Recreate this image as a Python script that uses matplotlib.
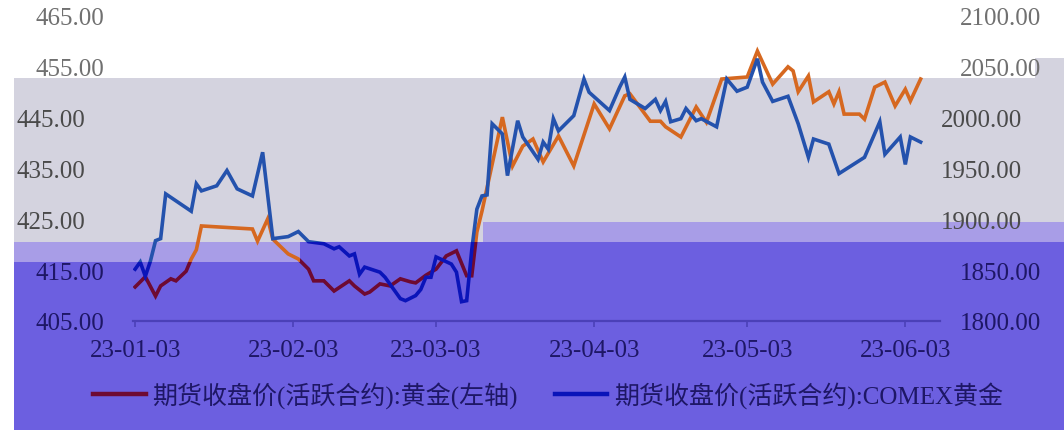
import matplotlib
matplotlib.use("Agg")
import matplotlib.pyplot as plt
import matplotlib.dates as mdates
import matplotlib.transforms as mtransforms
from matplotlib.patches import Rectangle, PathPatch
from matplotlib.path import Path
from matplotlib.lines import Line2D
import pandas as pd

plt.rcParams['font.family'] = ['Liberation Serif', 'Noto Sans CJK SC']

# SHFE gold, active contract close (left axis)
gold_dates = [
    "2023-01-03", "2023-01-05", "2023-01-07", "2023-01-08", "2023-01-10", "2023-01-11",
    "2023-01-13", "2023-01-14", "2023-01-15", "2023-01-16", "2023-01-26", "2023-01-27",
    "2023-01-29", "2023-01-30", "2023-02-02", "2023-02-04", "2023-02-06", "2023-02-07",
    "2023-02-09", "2023-02-11", "2023-02-14", "2023-02-15", "2023-02-17", "2023-02-18",
    "2023-02-20", "2023-02-22", "2023-02-24", "2023-02-26", "2023-02-27", "2023-03-01",
    "2023-03-03", "2023-03-05", "2023-03-07", "2023-03-09", "2023-03-10", "2023-03-11",
    "2023-03-12", "2023-03-16", "2023-03-18", "2023-03-20", "2023-03-22", "2023-03-24",
    "2023-03-27", "2023-03-30", "2023-04-03", "2023-04-06", "2023-04-09", "2023-04-10",
    "2023-04-14", "2023-04-16", "2023-04-17", "2023-04-20", "2023-04-23", "2023-04-25",
    "2023-04-28", "2023-05-03", "2023-05-05", "2023-05-08", "2023-05-11", "2023-05-12",
    "2023-05-13", "2023-05-15", "2023-05-16", "2023-05-19", "2023-05-20", "2023-05-21",
    "2023-05-22", "2023-05-25", "2023-05-26", "2023-05-28", "2023-05-30", "2023-06-01",
    "2023-06-03", "2023-06-04", "2023-06-06",
]
gold_vals = [
    411.7, 413.7, 409.9, 411.9, 413.3, 412.9,
    414.8, 417.2, 419.0, 423.7, 423.1, 420.7,
    425.1, 421.1, 418.2, 417.2, 415.2, 412.9,
    412.9, 410.9, 412.9, 411.9, 410.3, 410.7,
    412.3, 411.9, 413.3, 412.7, 412.5, 414.0,
    415.2, 417.8, 418.8, 413.9, 413.9, 422.5,
    426.6, 445.1, 435.5, 439.4, 440.8, 436.3,
    441.4, 435.5, 447.7, 442.8, 449.3, 449.7,
    444.3, 444.3, 443.2, 441.2, 447.1, 444.1,
    452.6, 453.0, 458.1, 451.6, 455.0, 454.2,
    450.1, 453.2, 448.1, 450.1, 447.7, 450.1,
    445.7, 445.7, 444.7, 451.0, 452.0, 447.3,
    450.6, 448.3, 452.6,
]

# COMEX gold, active contract close (right axis)
comex_dates = [
    "2023-01-03", "2023-01-04", "2023-01-05", "2023-01-06", "2023-01-07", "2023-01-08",
    "2023-01-09", "2023-01-14", "2023-01-15", "2023-01-16", "2023-01-19", "2023-01-21",
    "2023-01-23", "2023-01-26", "2023-01-28", "2023-01-30", "2023-02-02", "2023-02-04",
    "2023-02-06", "2023-02-09", "2023-02-11", "2023-02-12", "2023-02-14", "2023-02-15",
    "2023-02-16", "2023-02-17", "2023-02-20", "2023-02-21", "2023-02-24", "2023-02-25",
    "2023-02-27", "2023-02-28", "2023-03-01", "2023-03-02", "2023-03-03", "2023-03-06",
    "2023-03-07", "2023-03-08", "2023-03-09", "2023-03-10", "2023-03-11", "2023-03-12",
    "2023-03-13", "2023-03-14", "2023-03-16", "2023-03-17", "2023-03-19", "2023-03-20",
    "2023-03-23", "2023-03-24", "2023-03-25", "2023-03-26", "2023-03-27", "2023-03-30",
    "2023-04-01", "2023-04-02", "2023-04-06", "2023-04-08", "2023-04-09", "2023-04-10",
    "2023-04-13", "2023-04-15", "2023-04-16", "2023-04-17", "2023-04-18", "2023-04-20",
    "2023-04-21", "2023-04-23", "2023-04-24", "2023-04-27", "2023-04-29", "2023-05-01",
    "2023-05-03", "2023-05-05", "2023-05-06", "2023-05-08", "2023-05-11", "2023-05-13",
    "2023-05-15", "2023-05-16", "2023-05-19", "2023-05-21", "2023-05-26", "2023-05-29",
    "2023-05-30", "2023-06-02", "2023-06-03", "2023-06-04", "2023-06-06",
]
comex_vals = [
    1851, 1858, 1844, 1859, 1879, 1881,
    1925, 1908, 1935, 1928, 1933, 1948,
    1930, 1923, 1966, 1881, 1883, 1888,
    1878, 1876, 1871, 1873, 1864, 1866,
    1846, 1853, 1848, 1843, 1822, 1820,
    1825, 1831, 1843, 1843, 1863, 1856,
    1848, 1819, 1820, 1870, 1910, 1923,
    1924, 1994, 1984, 1943, 1997, 1981,
    1959, 1976, 1969, 1999, 1987, 2002,
    2038, 2025, 2007, 2030, 2040, 2018,
    2009, 2018, 2007, 2016, 1996, 1999,
    2009, 1997, 1999, 1991, 2038, 2026,
    2030, 2058, 2035, 2016, 2021, 1994,
    1961, 1979, 1974, 1945, 1961, 1996,
    1964, 1981, 1954, 1981, 1976,
]

left_ticks = [405, 415, 425, 435, 445, 455, 465]
right_ticks = [1800, 1850, 1900, 1950, 2000, 2050, 2100]
x_tick_dates = ["2023-01-03", "2023-02-03", "2023-03-03", "2023-04-03", "2023-05-03", "2023-06-03"]

label_gold = "期货收盘价(活跃合约):黄金(左轴)"
label_comex = "期货收盘价(活跃合约):COMEX黄金"

# colours
c_gray_bg = "#d4d3df"
c_band = "#a89de7"
c_purple = "#6c5fe0"
c_orange = "#d66820"
c_blue = "#2452ad"
c_darkred = "#6e0a32"
c_darkblue = "#0a14b9"
c_navy = "#1e1766"
c_axis = "#4b40b8"

W, H = 1064, 431
fig = plt.figure(figsize=(W / 100, H / 100), dpi=100)


def px_rect(x0, y0, x1, y1, color):
    fig.add_artist(Rectangle((x0 / W, 1 - y1 / H), (x1 - x0) / W, (y1 - y0) / H,
                             transform=fig.transFigure, facecolor=color,
                             edgecolor="none", zorder=-5))


def px_region(pts):
    verts = [(x / W, 1 - y / H) for x, y in pts] + [(0, 0)]
    codes = [Path.MOVETO] + [Path.LINETO] * (len(pts) - 1) + [Path.CLOSEPOLY]
    return PathPatch(Path(verts, codes), transform=fig.transFigure)


# background blocks
px_rect(14, 79, W, 243, c_gray_bg)
px_rect(1035, 59, W, 79, c_gray_bg)
px_rect(483, 223, W, 243, c_band)
px_rect(14, 243, 300, 263, c_band)
px_rect(300, 243, W, H, c_purple)
px_rect(14, 263, 300, H, c_purple)

light_pts = [(0, 0), (W, 0), (W, 243), (300, 243), (300, 263), (0, 263)]
dark_pts = [(0, 263), (300, 263), (300, 243), (W, 243), (W, H), (0, H)]

ax = fig.add_axes([133 / W, 1 - 322 / H, (940 - 133) / W, (322 - 17) / H])
ax.set_facecolor("none")
ax2 = ax.twinx()

gd = pd.to_datetime(gold_dates)
cd = pd.to_datetime(comex_dates)

for col, reg in [(c_orange, light_pts), (c_darkred, dark_pts)]:
    ln, = ax.plot(gd, gold_vals, color=col, linewidth=2.6, solid_joinstyle="miter")
    ln.set_clip_path(px_region(reg))
for col, reg in [(c_blue, light_pts), (c_darkblue, dark_pts)]:
    ln, = ax2.plot(cd, comex_vals, color=col, linewidth=2.6, solid_joinstyle="miter")
    ln.set_clip_path(px_region(reg))

start = pd.Timestamp("2023-01-03")
ax.set_xlim(start - pd.Timedelta(hours=10), start + pd.Timedelta(days=157.8))
ax.set_ylim(405, 465)
ax2.set_ylim(1800, 2100)

for a in (ax, ax2):
    for s in ["top", "left", "right", "bottom"]:
        a.spines[s].set_visible(False)
ax.spines["bottom"].set_visible(True)
ax.spines["bottom"].set_color(c_axis)
ax.spines["bottom"].set_linewidth(1.6)

ax.set_xticks(pd.to_datetime(x_tick_dates))
ax.xaxis.set_major_formatter(mdates.DateFormatter("%y-%m-%d"))
ax.tick_params(axis="x", direction="out", length=4, width=1.2, color=c_axis,
               labelsize=18, labelcolor=c_navy, pad=9)

ax.set_yticks(left_ticks)
ax.set_yticklabels([f"{v:.2f}" for v in left_ticks])
ax.tick_params(axis="y", length=0, labelsize=18, pad=21)
ax2.set_yticks(right_ticks)
ax2.set_yticklabels([f"{v:.2f}" for v in right_ticks])
ax2.tick_params(axis="y", length=0, labelsize=18, pad=14)


def label_style(v, top_vals, gray_vals):
    if v in top_vals:
        return "#707070", 0
    if v in gray_vals:
        return "#4a4a4a", -19
    return c_navy, 0


for tick in ax.yaxis.get_major_ticks():
    col, dx = label_style(tick.get_loc(), [455, 465], [425, 435, 445])
    tick.label1.set_color(col)
    if dx:
        tick.label1.set_transform(tick.label1.get_transform() +
                                  mtransforms.ScaledTranslation(dx / 100, 0, fig.dpi_scale_trans))
for tick in ax2.yaxis.get_major_ticks():
    col, dx = label_style(tick.get_loc(), [2050, 2100], [1900, 1950, 2000])
    tick.label2.set_color(col)
    if dx:
        tick.label2.set_transform(tick.label2.get_transform() +
                                  mtransforms.ScaledTranslation(dx / 100, 0, fig.dpi_scale_trans))

handles = [Line2D([], [], color=c_darkred, linewidth=3.2),
           Line2D([], [], color=c_darkblue, linewidth=3.2)]
leg = fig.legend(handles, [label_gold, label_comex], loc="center",
                 bbox_to_anchor=(0.515, 1 - 396 / H), ncol=2, frameon=False,
                 fontsize=18, handlelength=2.1, handletextpad=0.25,
                 columnspacing=1.5)
for t in leg.get_texts():
    t.set_color(c_navy)

fig.savefig("out.png", dpi=100)
